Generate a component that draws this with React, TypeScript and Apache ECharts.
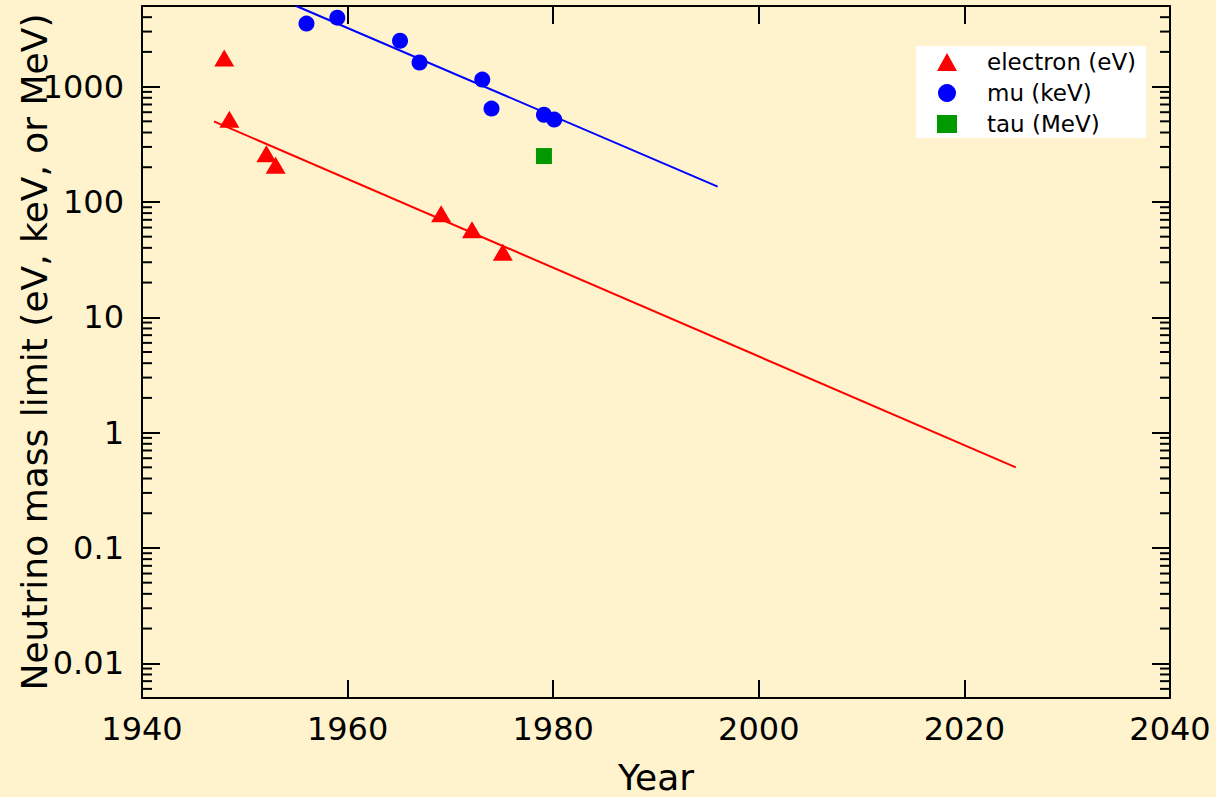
import React, { useEffect, useRef } from "react";
import * as echarts from "echarts";

// Measured data (year, mass limit)
const electronYears = [1948.0, 1948.5, 1952.1, 1953.0, 1969.1, 1972.1, 1975.1];
const electronLimits = [1770, 520, 262, 208, 79, 57.5, 36.7];
const muYears = [1956.0, 1959.0, 1965.1, 1967.0, 1973.1, 1974.0, 1979.1, 1980.1];
const muLimits = [3520, 3960, 2500, 1620, 1150, 645, 570, 518];
const tauYears = [1979.1];
const tauLimits = [250];

// Fit lines (end points)
const electronFitYears = [1947, 2025];
const electronFitValues = [500, 0.5];
const muFitYears = [1955, 1996];
const muFitValues = [5000, 136];

// Axes
const xMin = 1940;
const xMax = 2040;
const xStep = 20;
const yMin = 0.005;
const yMax = 5000;
const minorDecades = [0.001, 0.01, 0.1, 1, 10, 100, 1000];
const minorMultipliers = [2, 3, 4, 5, 6, 7, 8, 9];

const FONT = "DejaVu Sans";

export default function App() {
  const ref = useRef<HTMLDivElement>(null);

  useEffect(() => {
    if (!ref.current) return;
    const chart = echarts.init(ref.current, undefined, { renderer: "svg" });

    const minorTicks: number[] = [];
    minorDecades.forEach((d) =>
      minorMultipliers.forEach((m) => {
        const v = Number((d * m).toPrecision(6));
        if (v >= yMin && v <= yMax) minorTicks.push(v);
      })
    );

    const axisLine = { show: true, lineStyle: { color: "#000", width: 2 } };
    const majorTick = { show: true, inside: true, length: 18, lineStyle: { color: "#000", width: 2 } };

    const zipData = (xs: number[], ys: number[]) => xs.map((x, i) => [x, ys[i]]);

    const option: any = {
      animation: false,
      backgroundColor: "#FEF3CC",
      textStyle: { fontFamily: FONT, color: "#000" },
      grid: { left: 142, right: 46, top: 6, bottom: 99, containLabel: false, outerBoundsMode: "none" },
      graphic: [
        {
          type: "rect",
          shape: { x: 916, y: 46, width: 230, height: 92 },
          style: { fill: "#ffffff" },
          z: 1,
        },
      ],
      legend: {
        orient: "vertical",
        left: 937,
        top: 50,
        itemWidth: 20,
        itemHeight: 18,
        itemGap: 7,
        padding: 0,
        z: 10,
        data: ["electron (eV)", "mu (keV)", "tau (MeV)"],
        textStyle: { fontFamily: FONT, fontSize: 23, color: "#000", lineHeight: 24, padding: [0, 0, 0, 25] },
      },
      xAxis: [
        {
          type: "value",
          position: "bottom",
          min: xMin,
          max: xMax,
          interval: xStep,
          splitLine: { show: false },
          axisLine,
          axisTick: majorTick,
          axisLabel: {
            fontFamily: FONT,
            fontSize: 32,
            color: "#000",
            margin: 15,
            formatter: (v: number) => String(Math.round(v)),
          },
          name: "Year",
          nameLocation: "middle",
          nameGap: 61,
          nameMoveOverlap: false,
          nameTextStyle: { fontFamily: FONT, fontSize: 36, color: "#000" },
        },
        {
          type: "value",
          position: "top",
          min: xMin,
          max: xMax,
          interval: xStep,
          splitLine: { show: false },
          axisLine,
          axisTick: majorTick,
          axisLabel: { show: false },
        },
      ],
      yAxis: [
        {
          type: "log",
          logBase: 10,
          position: "left",
          min: yMin,
          max: yMax,
          splitLine: { show: false },
          axisLine,
          axisTick: majorTick,
          axisLabel: {
            fontFamily: FONT,
            fontSize: 32,
            color: "#000",
            margin: 18,
            showMinLabel: false,
            showMaxLabel: false,
            formatter: (v: number) => String(Number(Number(v).toPrecision(6))),
          },
          name: "Neutrino mass limit (eV, keV, or MeV)",
          nameLocation: "middle",
          nameGap: 90,
          nameMoveOverlap: false,
          nameTextStyle: { fontFamily: FONT, fontSize: 36, color: "#000" },
        },
        {
          type: "log",
          logBase: 10,
          position: "right",
          min: yMin,
          max: yMax,
          splitLine: { show: false },
          axisLine,
          axisTick: majorTick,
          axisLabel: { show: false },
        },
      ],
      series: [
        {
          type: "custom",
          name: "minorTicks",
          silent: true,
          clip: false,
          xAxisIndex: 0,
          yAxisIndex: 0,
          encode: { x: 0, y: 1 },
          data: minorTicks.map((v) => [xMin, v]),
          renderItem: (params: any, api: any) => {
            const pt = api.coord([api.value(0), api.value(1)]);
            const cs = params.coordSys;
            const y = pt[1];
            const len = 10;
            return {
              type: "group",
              children: [
                { type: "line", shape: { x1: cs.x, y1: y, x2: cs.x + len, y2: y }, style: { stroke: "#000", lineWidth: 2 } },
                {
                  type: "line",
                  shape: { x1: cs.x + cs.width - len, y1: y, x2: cs.x + cs.width, y2: y },
                  style: { stroke: "#000", lineWidth: 2 },
                },
              ],
            };
          },
        },
        {
          type: "line",
          name: "electron fit",
          data: zipData(electronFitYears, electronFitValues),
          showSymbol: false,
          symbol: "none",
          lineStyle: { color: "#FF0000", width: 2 },
          itemStyle: { color: "#FF0000" },
          z: 3,
        },
        {
          type: "line",
          name: "mu fit",
          data: zipData(muFitYears, muFitValues),
          showSymbol: false,
          symbol: "none",
          lineStyle: { color: "#0000FF", width: 2 },
          itemStyle: { color: "#0000FF" },
          z: 3,
        },
        {
          type: "scatter",
          name: "electron (eV)",
          symbol: "triangle",
          symbolSize: [20, 17],
          itemStyle: { color: "#FF0000", opacity: 1 },
          data: zipData(electronYears, electronLimits),
          z: 4,
        },
        {
          type: "scatter",
          name: "mu (keV)",
          symbol: "circle",
          symbolSize: 16,
          itemStyle: { color: "#0000FF", opacity: 1 },
          data: zipData(muYears, muLimits),
          z: 4,
        },
        {
          type: "scatter",
          name: "tau (MeV)",
          symbol: "rect",
          symbolSize: 16,
          itemStyle: { color: "#009900", opacity: 1 },
          data: zipData(tauYears, tauLimits),
          z: 4,
        },
      ],
    };

    chart.setOption(option);
    return () => chart.dispose();
  }, []);

  return (
    <div
      ref={ref}
      style={{ position: "absolute", left: 0, top: 0, width: 1216, height: 797 }}
    />
  );
}
